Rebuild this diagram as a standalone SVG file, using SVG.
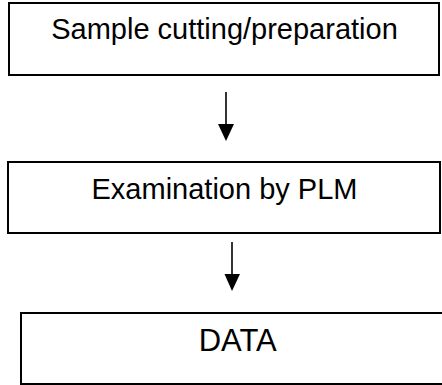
<svg xmlns="http://www.w3.org/2000/svg" width="442" height="385" viewBox="0 0 442 385">
<style>
.box{fill:#fff;stroke:#000;stroke-width:2}
.lbl{font-family:"Liberation Sans",Arial,sans-serif;font-size:29px;fill:#000;text-anchor:middle}
.conn{stroke:#000;stroke-width:1.6;fill:none}
</style>
<rect width="442" height="385" fill="#fff"/>
<g id="n1">
<rect class="box" x="9" y="3" width="430" height="72"/>
<text class="lbl" x="224.5" y="39">Sample cutting/preparation</text>
</g>
<g id="n2">
<rect class="box" x="8" y="162" width="432" height="71"/>
<text class="lbl" x="224.5" y="199">Examination by PLM</text>
</g>
<g id="n3">
<rect class="box" x="21" y="313" width="440" height="71"/>
<text class="lbl" x="237.7" y="351" style="font-size:31px">DATA</text>
</g>
<g id="connectors">
<line class="conn" x1="226" y1="92" x2="226" y2="126"/>
<path d="M218,124 L234,124 L226,141 Z" fill="#000"/>
<line class="conn" x1="232" y1="242" x2="232" y2="276"/>
<path d="M224.5,274 L240,274 L232,291 Z" fill="#000"/>
</g>
</svg>
